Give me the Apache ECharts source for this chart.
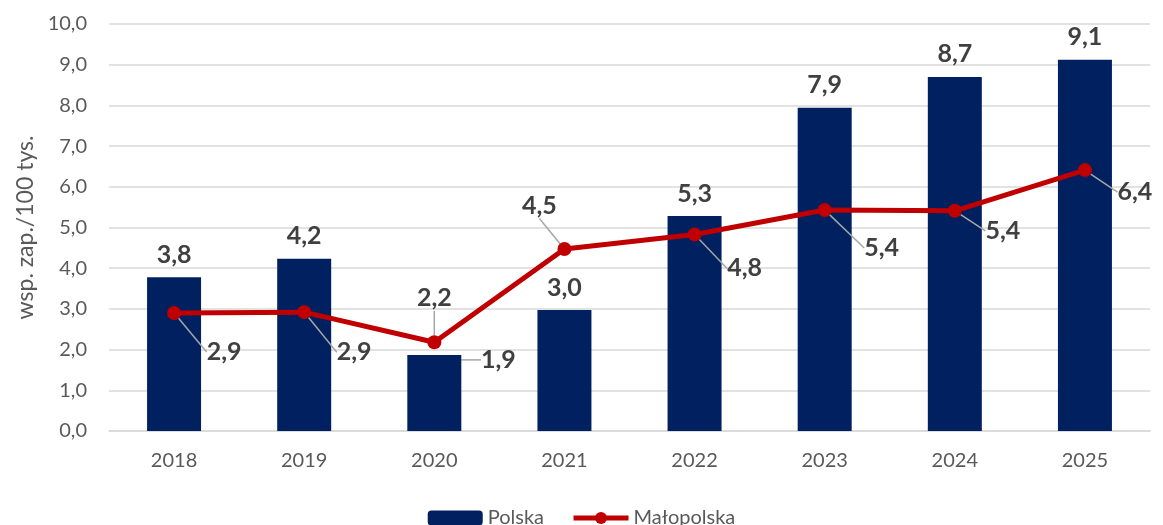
<!DOCTYPE html>
<html>
<head>
<meta charset="utf-8">
<script src="https://cdn.jsdelivr.net/npm/echarts@6/dist/echarts.min.js"></script>
<style>
  html, body { margin: 0; padding: 0; background: #fff; }
  #chart { width: 1163px; height: 525px; }
</style>
</head>
<body>
<div id="chart"></div>
<script>
const years = ['2018', '2019', '2020', '2021', '2022', '2023', '2024', '2025']
const polska = [3.78, 4.23, 1.87, 2.97, 5.28, 7.94, 8.7, 9.12]
const malopolska = [2.9, 2.92, 2.18, 4.47, 4.83, 5.43, 5.41, 6.41]

// przesuniecia etykiet linii (jak w oryginale z Excela)
const lineLabelShift = [[50, 39], [50, 40], [0, -44], [-25, -43], [50, 34], [57, 38], [48, 20], [50, 22]]

const fmt = v => v.toFixed(1).replace('.', ',')
const FONT = 'Lato'

const chart = echarts.init(document.getElementById('chart'))

const option = {
  animation: false,
  textStyle: { fontFamily: FONT },
  grid: {
    left: 109,
    right: 13,
    top: 24,
    bottom: 94,
    outerBoundsMode: 'none'
  },
  legend: {
    left: 'center',
    top: 503,
    itemWidth: 55,
    itemHeight: 15,
    itemGap: 27,
    textStyle: { fontFamily: FONT, fontSize: 20, color: '#595959' },
    data: [
      { name: 'Polska' },
      { name: 'Małopolska', lineStyle: { width: 5 } }
    ]
  },
  xAxis: {
    type: 'category',
    data: years,
    axisLine: { lineStyle: { color: '#d9d9d9', width: 1.5 } },
    axisTick: { show: false },
    axisLabel: { fontFamily: FONT, fontSize: 20, color: '#595959', margin: 20 }
  },
  yAxis: {
    type: 'value',
    min: 0,
    max: 10,
    interval: 1,
    name: 'wsp. zap./100 tys.',
    nameLocation: 'middle',
    nameRotate: 90,
    nameGap: 72,
    nameTextStyle: { fontFamily: FONT, fontSize: 23, color: '#595959' },
    axisLine: { show: false },
    axisTick: { show: false },
    axisLabel: { fontFamily: FONT, fontSize: 20, color: '#595959', margin: 22, formatter: fmt },
    splitLine: { lineStyle: { color: '#d9d9d9', width: 1.5 } }
  },
  series: [
    {
      name: 'Polska',
      type: 'bar',
      barWidth: 54,
      itemStyle: { color: '#002060' },
      data: polska.map((v, i) => i === 2
        ? { value: v, labelLine: { show: true } }
        : v),
      label: {
        show: true,
        position: 'top',
        distance: 10,
        fontFamily: FONT,
        fontSize: 25,
        fontWeight: 'bold',
        color: '#404040',
        formatter: p => fmt(p.value)
      },
      labelLine: { show: false, lineStyle: { color: '#a6a6a6', width: 1.5 } },
      labelLayout: function (params) {
        if (params.dataIndex !== 2) return {}
        return {
          x: params.rect.x + params.rect.width / 2 + 64,
          y: params.rect.y + 5,
          align: 'center',
          verticalAlign: 'middle'
        }
      }
    },
    {
      name: 'Małopolska',
      type: 'line',
      data: malopolska,
      symbol: 'circle',
      symbolSize: 14,
      z: 5,
      lineStyle: { color: '#c00000', width: 5 },
      itemStyle: { color: '#c00000' },
      label: {
        show: true,
        fontFamily: FONT,
        fontSize: 25,
        fontWeight: 'bold',
        color: '#404040',
        formatter: p => fmt(p.value)
      },
      labelLine: { show: true, lineStyle: { color: '#a6a6a6', width: 1.5 } },
      labelLayout: function (params) {
        const s = lineLabelShift[params.dataIndex]
        return {
          x: params.rect.x + params.rect.width / 2 + s[0],
          y: params.rect.y + params.rect.height / 2 + s[1],
          align: 'center',
          verticalAlign: 'middle'
        }
      }
    }
  ]
}

chart.setOption(option)
</script>
</body>
</html>
